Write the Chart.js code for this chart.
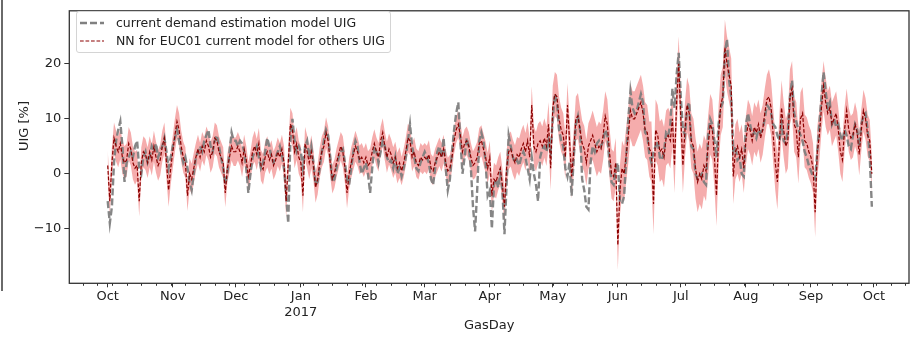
<!DOCTYPE html>
<html lang="en">
<head>
<meta charset="UTF-8">
<title>UIG - GasDay</title>
<script src="https://cdn.jsdelivr.net/npm/chart.js"></script>
<style>
  body { margin: 0; background: #fff; }
  #wrap { position: relative; width: 913px; height: 338px; }
  #frame { position: absolute; left: 1px; top: 0; width: 2px; height: 291px; background: #6a6a6a; }
  #legend {
    position: absolute; left: 76px; top: 11px; width: 313px; height: 40px;
    border: 1px solid #d4d4d4; border-radius: 3px; background: rgba(255,255,255,0.85);
    font: 12.5px "DejaVu Sans", sans-serif; color: #222;
  }
  #legend svg { position: absolute; left: 3px; }
  #legend span { position: absolute; left: 39px; line-height: 16px; white-space: nowrap; }
</style>
</head>
<body>
<div id="wrap">
  <canvas id="uigChart" width="913" height="338"></canvas>
  <div id="frame"></div>
  <div id="legend">
    <svg width="24" height="6" style="top:8px"><line x1="0" y1="3" x2="24" y2="3" stroke="#808080" stroke-width="2.4" stroke-dasharray="7 3"/></svg>
    <span style="top:3px">current demand estimation model UIG</span>
    <svg width="24" height="6" style="top:26px"><line x1="0" y1="3" x2="24" y2="3" stroke="#8b0000" stroke-width="1.2" stroke-dasharray="3.7 1.8"/></svg>
    <span style="top:21px">NN for EUC01 current model for others UIG</span>
  </div>
</div>

<script>
// daily values from 2016-10-01 to 2017-09-30, one row per month

// current demand estimation model UIG [%]
const uigCurrent = [
  -5, -9, -6, 2, 6, 8, 9.5, 5, -1.5, 2, 3, 4, 3, 5, 6, 1, 0, 3, 4, 2, 3, 5, 4, 5.5, 3, 4, 5, 6.5, 4, 1, 3,
  5, 6.5, 8, 6, 4, 2, 3, 1, -1.5, -3, 0, 3, 4, 5, 4, 6, 7, 8, 5, 4, 6, 7, 5, 3, 1, -2, 0, 4, 7.5, 6,
  6, 5, 6, 5.5, 4, 1, -3.5, 0, 3, 4, 5, 3, 1, 2, 4, 6.5, 5, 3, 2, 3, 4, 5, 3.5, 1, -4, -9, 6, 10, 6, 4, 5,
  4, 1, 5, 6, 3, 5, 2, -2, -1.5, 1, 4, 6, 8, 7, 3, -1.5, -1, 1, 3, 4, 4.5, 2, -1, -2, 1, 4, 6, 5, 2, 0, 1,
  2, 0, -3.5, 1, 5, 4, 2, 4, 6, 5, 3, 2, 2.5, 1, 3, 0, 1, -0.5, 1, 3, 6, 9, 5, 3, 1, 0.5, 2, 3,
  4, 3, 2, -1, -2, 1, 4, 5, 3, 6.5, 1, -3, -1, 4, 8, 11, 13, 6, 0, 3, 6.5, 5, 1, -6, -10.5, -3, 6, 7.5, 6, 2, -4,
  -3, -10, -2, -1, -2.5, 0, -3, -11, -2, 7, 5, 3, 2, 2.5, 1.5, 3, 4, 3, 1, -1, 3, 0, -2, -5, 3, 4.5, 5, 4, 6, 4,
  10, 14.5, 13, 8, 6, 5, 1, -0.5, 2, -4, 3, 9, 10.5, 8, -1, -3, -6, -6.5, 2, 5, 4, 5.5, 6, 5, 6, 8, 7, 2, -1.5, -2, 1,
  2, -5, -5.5, -4, 3, 10, 15, 12, 11, 11.5, 13, 14.5, 13, 7.5, 7, 3.5, 2, 4, 5, 6, 3, 2.5, 4, 7.5, 7, 9, 15.5, 12, 18, 22,
  14, 8, 7, 12, 13, 5, 4.5, 0, -1, -0.5, 0, -1.5, -2, 7, 10, 9, 6, 3, 9, 12, 13, 22, 24.5, 17, 14, 4, 5, 2.5, 3, 0, -0.5,
  9, 11, 9, 7, 7.5, 6.5, 8, 7.5, 8, 10, 12.5, 12, 11, 9, 8.5, 7, 6, 9, 6, 5.5, 8, 14, 17, 11, 9.5, 8, 7, 6, 4, 3, 1.5,
  0.5, -0.5, -1, 4, 9, 14, 18.5, 15, 12, 13, 9, 10, 8.5, 9, 7, 6, 8, 7, 5, 4.5, 7, 9, 8, 5, 9, 10.5, 11, 8, 3, -6
];

// NN for EUC01, current model for others UIG [%]
const uigNN = [
  1.5, -5, 2, 6.5, 5, 4, 5.5, 3, 2, 2.5, 5.5, 4.5, 2, 1, 1.5, -5, 2, 4, 3.5, 2, 4, 2.5, 5, 3, 1.5, 2.5, 5, 6.5, 2, -3, 1,
  4, 7, 9.5, 8, 5, 3, 2, -4, 0, -1, 1, 3, 4.5, 3, 5, 4, 6, 5, 3, 4, 6.5, 6, 4, 3, 2, -3.5, 1, 3, 5, 4,
  4, 5, 4, 2, 4.5, 2.5, -0.5, 1.5, 4, 5, 3.5, 5.5, 1.5, 0.8, 3, 4, 2.5, 3.5, 1.5, 2.5, 4, 3, 4.5, 2, -5, 2, 9, 8, 4, 5.5, 3,
  2, -4, 5.5, 4, 2, 4, 1.5, -2.5, -1, 2, 4, 5, 7.5, 6, 2, -1, 0, 2, 3.5, 5, 4, 1, -3.5, 0, 2, 3.5, 5, 4, 2.5, 3, 2,
  3, 1.5, 2, 4, 5.5, 4, 3, 6, 7.5, 5, 3, 4.5, 3.5, 2, 3, 1, 2, 0.5, 2, 4, 6.5, 6, 3, 4, 2, 1.5, 3, 2.5,
  3, 2.5, 3.5, 1, 0.5, 2, 3, 4, 3, 4.5, 2, 0.5, 1, 3, 6, 8, 9, 7, 4, 5.5, 6, 5, 3, 1.5, 2, 3, 5.5, 6, 4.5, 3, 1,
  3, -4, -1, -1.5, 0, 1, -2, -6, 1, 4, 4.5, 3, 2, 3.5, 3, 4.5, 5.5, 4, 6, 3, 12.5, 5, 4, 5.5, 6, 5, 6.5, 5, 9, 1,
  12, 14.5, 14, 10, 8, 7, 3, 12.5, 6, -0.5, 4, 10, 10.5, 8, 5.5, 4.5, 2, 5, 6, 7, 5.5, 4, 5, 4.5, 7, 10.5, 9, 4, 0, -0.5, 2,
  -13, -3, 1, 0, 3.5, 7, 11.5, 10, 10, 11, 12, 13, 11, 8, 7.5, 4.5, 4, -5.5, 8, 7, 4, 4.5, 3, 6.5, 7, 6, 10, 1.5, 13, 20,
  10, 1.5, 8, 12.5, 11, 6, 5, 1, -1.5, 0, -1, 1.5, 0.5, 5, 9, 8, 3, -4, 7, 12.5, 14, 23, 20, 18, 16, -0.5, 4, 5, 3, 4.5, 1,
  6, 9, 8, 6, 8.5, 7.5, 9, 6.5, 8, 11, 13.5, 14, 12, 7, 2, -1.5, 6, 12, 8, 5, 6, 14, 15.5, 9, 8, 3, 10, 11, 6, 5.5, 4,
  3, 1, -7, 4, 7, 12, 16, 13, 11, 12, 9, 10, 11, 8, 4, 2.5, 8, 11.5, 8, 6.5, 7, 9, 7.5, 3.5, 8, 11.5, 10, 7, 6, 0
];

// half width of the NN uncertainty band, one value per week
const nnSpread = [
  2.8, 3, 2.8, 2.8, 3,
  2.8, 2.6, 2.8, 2.6,
  2.6, 2.8, 2.6, 3,
  3, 2.8, 2.6, 2.8, 2.6,
  2.6, 2.8, 2.6, 2.6,
  2.6, 2.4, 2.6, 2.8,
  3, 3.2, 3.4, 3.6, 4,
  4, 4.2, 4.5, 4.5,
  5, 5, 5.5, 5,
  5, 5.5, 5.5, 5, 4.5,
  4.5, 5, 5, 4.8,
  4.5, 4, 4, 3.8, 3.5
];

// month ticks [year, monthIndex] and their labels
const monthTicks = [[2016, 9], [2016, 10], [2016, 11], [2017, 0], [2017, 1], [2017, 2], [2017, 3],
                    [2017, 4], [2017, 5], [2017, 6], [2017, 7], [2017, 8], [2017, 9]];
const monthLabels = ['Oct', 'Nov', 'Dec', ['Jan', '2017'], 'Feb', 'Mar', 'Apr', 'May', 'Jun', 'Jul', 'Aug', 'Sep', 'Oct'];
const yTicks = [-10, 0, 10, 20];

const startUtc = Date.UTC(2016, 9, 1);
const dayIndex = (y, m, d) => Math.round((Date.UTC(y, m, d) - startUtc) / 86400000);
const monthDays = monthTicks.map(([y, m]) => dayIndex(y, m, 1));

const nnPts = uigNN.map((v, i) => ({ x: i, y: v }));
const curPts = uigCurrent.map((v, i) => ({ x: i, y: v }));
const bandHigh = uigNN.map((v, i) => ({ x: i, y: v + nnSpread[Math.floor(i / 7)] }));
const bandLow = uigNN.map((v, i) => ({ x: i, y: v - nnSpread[Math.floor(i / 7)] }));

Chart.defaults.font.family = "'DejaVu Sans', sans-serif";
Chart.defaults.font.size = 13;
Chart.defaults.color = '#222';

// axes box, weekly minor ticks (Mondays) and the y axis title
const axesFrame = {
  id: 'axesFrame',
  afterDraw(chart) {
    const { ctx, chartArea: a, scales: { x } } = chart;
    ctx.save();
    ctx.strokeStyle = '#333';
    ctx.lineWidth = 1;
    for (let d = dayIndex(2016, 8, 5); d <= x.max; d += 7) {
      if (d < x.min) continue;
      const px = Math.round(x.getPixelForValue(d)) + 0.5;
      ctx.beginPath();
      ctx.moveTo(px, a.bottom);
      ctx.lineTo(px, a.bottom + 2.5);
      ctx.stroke();
    }
    ctx.lineWidth = 1.3;
    ctx.strokeRect(a.left, a.top, a.right - a.left, a.bottom - a.top);

    ctx.translate(25, 126);
    ctx.rotate(-Math.PI / 2);
    ctx.fillStyle = '#222';
    ctx.font = "13px 'DejaVu Sans', sans-serif";
    ctx.textAlign = 'center';
    ctx.textBaseline = 'middle';
    ctx.fillText('UIG [%]', 0, 0);
    ctx.restore();
  }
};

new Chart(document.getElementById('uigChart'), {
  type: 'line',
  data: {
    datasets: [
      {
        label: 'NN for EUC01 current model for others UIG',
        data: nnPts,
        borderColor: '#8b0000',
        borderWidth: 1.2,
        borderDash: [3.7, 1.8],
        pointRadius: 0,
        tension: 0,
        fill: false
      },
      {
        label: 'current demand estimation model UIG',
        data: curPts,
        borderColor: 'rgba(128,128,128,0.95)',
        borderWidth: 2.4,
        borderDash: [7, 3],
        pointRadius: 0,
        tension: 0,
        fill: false
      },
      {
        label: 'band high',
        data: bandHigh,
        borderWidth: 0,
        pointRadius: 0,
        backgroundColor: 'rgba(235, 90, 90, 0.5)',
        fill: '+1'
      },
      {
        label: 'band low',
        data: bandLow,
        borderWidth: 0,
        pointRadius: 0,
        fill: false
      }
    ]
  },
  options: {
    responsive: false,
    animation: false,
    events: [],
    layout: { padding: { top: 4, right: 4, left: 0, bottom: 0 } },
    plugins: {
      legend: { display: false },
      tooltip: { enabled: false }
    },
    scales: {
      x: {
        type: 'linear',
        bounds: 'data',
        min: -18.3,
        max: 381.7,
        afterFit: s => { s.height = 54.7; },
        afterBuildTicks: s => { s.ticks = monthDays.map(v => ({ value: v })); },
        ticks: {
          autoSkip: false,
          maxRotation: 0,
          padding: 2,
          callback: (v, i) => monthLabels[i]
        },
        grid: { drawOnChartArea: false, tickLength: 4, tickColor: '#333' },
        border: { display: false },
        title: { display: true, text: 'GasDay', padding: { top: 0, bottom: 4.2 } }
      },
      y: {
        bounds: 'data',
        min: -19.94,
        max: 29.65,
        afterFit: s => { s.width = 69.3; },
        afterBuildTicks: s => { s.ticks = yTicks.map(v => ({ value: v })); },
        ticks: {
          padding: 3,
          callback: v => (v < 0 ? '\u2212' + (-v) : String(v))
        },
        grid: { drawOnChartArea: false, tickLength: 5, tickColor: '#333' },
        border: { display: false },
        title: { display: false }
      }
    }
  },
  plugins: [axesFrame]
});
</script>
</body>
</html>
